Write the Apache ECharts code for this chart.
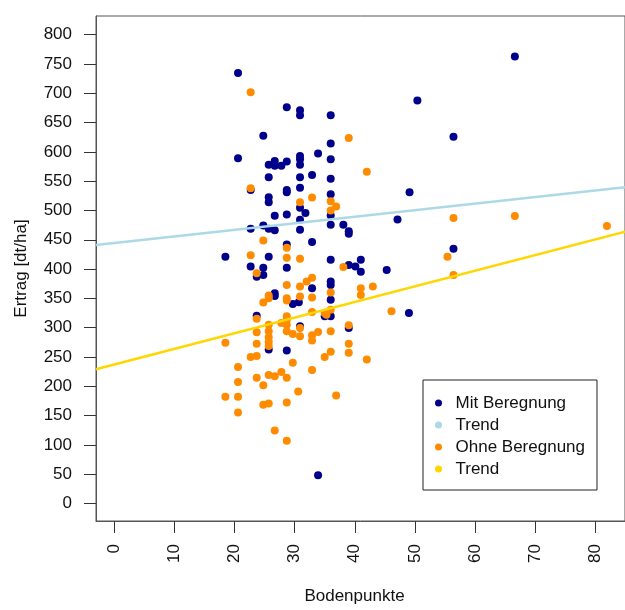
<!DOCTYPE html>
<html>
<head>
<meta charset="utf-8">
<script src="https://cdn.jsdelivr.net/npm/echarts@6/dist/echarts.min.js"></script>
<style>
html,body{margin:0;padding:0;background:#fff;}
#c{width:625px;height:610px;}
</style>
</head>
<body>
<div id="c"></div>
<script>
// Mit Beregnung (x = Bodenpunkte, y = Ertrag)
const mitX = [20.6,28.7,30.9,30.9,36.0,24.8,36.0,20.6,30.9,30.9,33.9,36.0,25.7,26.7,26.7,27.8,28.7,30.9,25.7,30.9,
  32.9,36.0,30.9,22.7,28.7,28.7,36.0,25.7,25.7,30.9,31.8,26.7,28.7,36.0,30.9,36.0,38.1,39.0,39.0,22.7,
  24.8,25.7,26.7,30.9,32.9,28.7,18.5,25.7,36.0,39.0,40.1,41.0,41.0,22.7,24.8,24.8,23.7,28.7,36.0,36.0,
  32.9,26.7,26.7,36.0,29.7,30.7,36.0,35.0,23.7,30.9,39.0,25.7,28.7,33.9,
  66.6,50.4,56.4,49.1,47.1,56.4,45.3,49.0];
const mitY = [734.6,676.3,671.2,662.7,662.7,627.8,614.2,589.3,593.2,587.6,597.3,587.6,578,584.7,576.3,576.3,583.7,578,556.6,556.6,
  560.5,554.2,539,535.1,535.1,531.2,527.8,522.7,514.2,504.6,495.6,491,493.2,491.5,484.2,475.7,475.7,464.4,460.5,469,
  474.6,469,466.1,467.3,446.4,441.9,421,421,415.9,406.8,404.6,415.9,395.6,404.6,402.4,389.8,386.8,402.4,378.6,372.9,
  367.3,358.8,354.2,347.5,340.2,343.6,319.3,319.3,320.3,302.4,299.5,262.7,261,48.1,
  762.7,687.6,626.1,531.2,484.7,434.6,398.3,325];

// Ohne Beregnung
const ohneX = [22.7,39.0,42.0,22.7,32.9,30.9,36.0,36.9,36.0,24.8,28.7,22.7,28.7,30.9,38.1,23.7,32.9,32.0,30.9,28.7,
  43.0,41.0,41.0,36.0,32.9,30.9,25.7,25.7,28.7,28.7,24.8,32.9,36.0,35.0,35.3,23.7,28.7,28.7,27.8,28.7,
  30.9,25.7,25.7,25.7,25.7,25.7,23.7,18.5,28.7,29.7,30.9,32.9,33.9,32.9,36.0,39.0,39.0,39.0,36.0,35.0,
  42.0,23.7,22.7,23.7,29.7,32.9,20.6,23.7,25.7,26.7,27.8,28.7,24.8,20.6,30.6,36.9,18.5,20.6,24.8,25.7,
  28.7,20.6,26.7,28.7,
  46.1,55.4,56.4,56.4,66.6,81.9];
const ohneY = [701.7,623.7,566.1,538,522,514.2,515.9,506.8,500,448.6,436.3,423.7,419.3,417.6,403.4,392.7,385.4,378.6,370.2,372.9,
  370.2,367.3,355.9,360,351.5,353.2,354.9,350.3,350.3,346.4,343.1,326.6,330.5,324.9,322,315.3,319.3,313.6,307.9,305.1,
  299.5,305.1,293.9,283.7,275.8,268.5,292.2,274.1,293.9,289.3,285.4,287.2,292.7,278,293.9,304.1,272.4,257.1,258.8,249.8,
  245.8,272.4,249.8,251.5,240.2,227.8,232.9,214.7,219.3,217,224.4,214.7,201.7,207.4,191,184.2,182,182,168.5,170.7,
  172.4,155.4,124.4,106.8,
  328,421,389.8,487.1,490.5,473.5];

// Trend lines (endpoints read at the plot edges)
const mitTrendX = [-3, 85];
const mitTrendY = [441, 540];
const ohneTrendX = [-3, 85];
const ohneTrendY = [229, 464];

const xTicks = [0,10,20,30,40,50,60,70,80];
const yTicks = [0,50,100,150,200,250,300,350,400,450,500,550,600,650,700,750,800];

const seriesNames = ['Mit Beregnung','Trend','Ohne Beregnung','Trend '];
const colors = ['#00008B','#ADD8E6','#FF8C00','#FFD700'];

const zip = (a,b) => a.map((v,i)=>[v,b[i]]);
const font = 'Liberation Sans, Arial, sans-serif';

const chart = echarts.init(document.getElementById('c'), null, {renderer:'canvas'});
chart.setOption({
  animation:false,
  backgroundColor:'#fff',
  grid:{left:96, right:0, top:16, bottom:85, show:true, borderColor:'#555', borderWidth:1, backgroundColor:'transparent'},
  xAxis:{
    type:'value', min:-3, max:84.9,
    name:'Bodenpunkte', nameLocation:'middle', nameGap:67,
    nameTextStyle:{fontFamily:font, fontSize:17, color:'#111', padding:[0,12,0,0]},
    axisLine:{show:true, onZero:false, lineStyle:{color:'#555', width:1}},
    axisTick:{show:true, inside:false, length:12, customValues:xTicks, lineStyle:{color:'#333'}},
    axisLabel:{customValues:xTicks, rotate:90, margin:23, fontFamily:font, fontSize:17, color:'#111'},
    splitLine:{show:false}
  },
  yAxis:{
    type:'value', min:-30, max:832,
    name:'Ertrag [dt/ha]', nameLocation:'middle', nameGap:66,
    nameTextStyle:{fontFamily:font, fontSize:17, color:'#111'},
    axisLine:{show:true, onZero:false, lineStyle:{color:'#555', width:1}},
    axisTick:{show:true, inside:false, length:12, customValues:yTicks, lineStyle:{color:'#333'}},
    axisLabel:{customValues:yTicks, margin:24, fontFamily:font, fontSize:17, color:'#111'},
    splitLine:{show:false}
  },
  legend:{
    orient:'vertical', left:423, top:380,
    backgroundColor:'#fff', borderColor:'#222', borderWidth:1,
    padding:[13,12,11,12],
    itemWidth:24, itemHeight:7, itemGap:2,
    textStyle:{fontFamily:font, fontSize:17, color:'#111', lineHeight:20},
    data:seriesNames.map(n=>({name:n, icon:'circle'})),
    formatter: n => n.trim()
  },
  series:[
    {name:seriesNames[0], type:'scatter', data:zip(mitX,mitY), symbol:'circle', symbolSize:8,
     itemStyle:{color:colors[0], opacity:1}, z:2},
    {name:seriesNames[2], type:'scatter', data:zip(ohneX,ohneY), symbol:'circle', symbolSize:8,
     itemStyle:{color:colors[2], opacity:1}, z:3},
    {name:seriesNames[1], type:'line', data:zip(mitTrendX,mitTrendY), showSymbol:false, symbol:'circle',
     lineStyle:{color:colors[1], width:2.5}, itemStyle:{color:colors[1]}, z:4, silent:true},
    {name:seriesNames[3], type:'line', data:zip(ohneTrendX,ohneTrendY), showSymbol:false, symbol:'circle',
     lineStyle:{color:colors[3], width:2.5}, itemStyle:{color:colors[3]}, z:5, silent:true}
  ]
});
</script>
</body>
</html>
